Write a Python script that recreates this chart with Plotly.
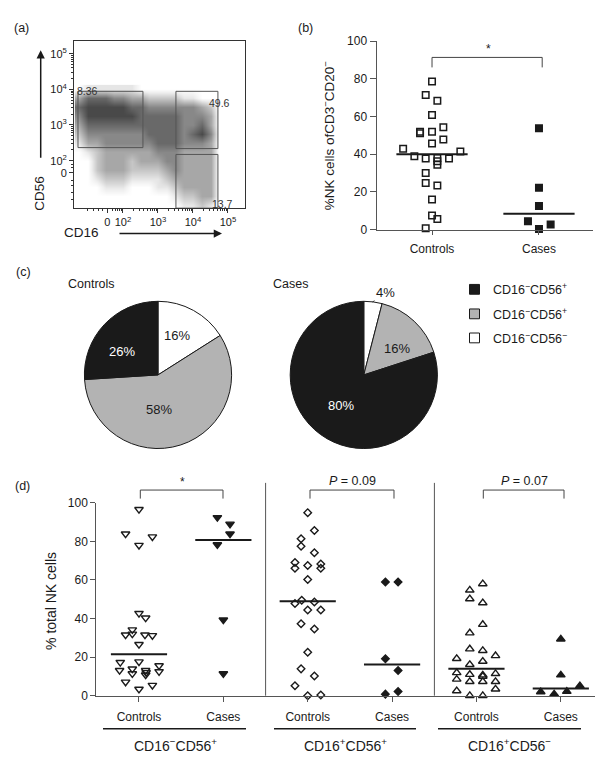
import plotly.graph_objects as go

W, H = 603, 757
FONT = "Liberation Sans, Arial, Helvetica, sans-serif"
INK = "#1a1a1a"
AXC = "#555555"
GRAY = "#b3b3b3"


def px(x):
    return x / W


def py(y):
    return 1 - y / H


# ---------------- (a) flow cytometry dot plot: visual darkness grid
flow_x = [0.75, 1.0, 1.25, 1.5, 1.75, 2.0, 2.25, 2.5, 2.75, 3.0, 3.25, 3.5, 3.75, 4.0, 4.25, 4.5, 4.75]
flow_y = [4.0, 3.75, 3.5, 3.25, 3.0, 2.75, 2.5, 2.25, 2.0, 1.75, 1.5, 1.25, 1.0, 0.75]
flow_z = [
    [0, 1, 1, 1, 1, 1, 1, 0, 0, 0, 0, 0, 0, 0, 0, 0, 0],
    [3, 5, 5, 5, 4, 4, 3, 3, 2, 2, 2, 2, 1, 1, 0, 0, 0],
    [5, 6, 6, 6, 6, 6, 5, 5, 4, 4, 4, 4, 4, 4, 3, 2, 0],
    [4, 6, 6, 6, 6, 6, 6, 5, 5, 5, 5, 5, 4, 4, 4, 3, 0],
    [3, 5, 5, 5, 5, 5, 5, 5, 5, 5, 5, 5, 4, 4, 5, 3, 0],
    [2, 4, 4, 4, 4, 4, 4, 4, 5, 5, 5, 5, 4, 5, 6, 4, 0],
    [1, 3, 3, 4, 4, 4, 4, 4, 4, 5, 5, 5, 4, 4, 4, 3, 0],
    [0, 1, 2, 3, 3, 3, 3, 3, 3, 4, 4, 4, 3, 3, 3, 3, 0],
    [0, 0, 2, 3, 3, 3, 2, 3, 3, 3, 4, 4, 3, 3, 3, 3, 0],
    [0, 0, 2, 3, 3, 3, 2, 2, 2, 2, 3, 4, 3, 3, 3, 3, 0],
    [0, 0, 1, 2, 2, 2, 1, 1, 1, 1, 2, 3, 3, 3, 3, 3, 0],
    [0, 0, 0, 1, 1, 1, 0, 0, 0, 1, 1, 2, 3, 3, 3, 3, 0],
    [0, 0, 0, 0, 0, 0, 0, 0, 0, 0, 0, 1, 2, 2, 3, 3, 0],
    [0, 0, 0, 0, 0, 0, 0, 0, 0, 0, 0, 0, 1, 1, 2, 1, 0],
]
a_tickvals = [1.55, 2, 3, 4, 5]
a_ticktext = ["0", "10<sup>2</sup>", "10<sup>3</sup>", "10<sup>4</sup>", "10<sup>5</sup>"]
a_ytickvals = [1.66, 2, 3, 4, 5]
a_yticktext = ["0", "10<sup>2</sup>", "10<sup>3</sup>", "10<sup>4</sup>", "10<sup>5</sup>"]
gate_labels = ["8.36", "49.6", "13.7"]
gate_x0 = [0.714, 3.514, 3.514]
gate_x1 = [2.571, 4.714, 4.714]
gate_y0 = [2.366, 2.339, 0.667]
gate_y1 = [3.945, 3.945, 2.174]

# ---------------- (b)
b_categories = ["Controls", "Cases"]
b_controls = [78.6, 71.5, 68.4, 60.8, 54.3, 52.0, 51.2, 51.9, 47.9, 45.7, 42.9, 41.5, 38.9,
              37.8, 38.0, 37.8, 36.3, 34.5, 30.0, 24.7, 23.4, 16.0, 7.5, 5.7, 0.7]
b_controls_jit = [0, -0.059, 0.05, 0, 0.106, -0.112, -0.112, 0, 0.106, 0, -0.27, 0.265, -0.165,
                  -0.059, 0.05, 0.159, 0.05, 0.05, -0.059, -0.059, 0.05, 0, 0, 0.05, -0.059]
b_cases = [53.8, 22.2, 12.5, 4.5, 0.3, 2.8]
b_cases_jit = [0, 0, 0, -0.103, 0, 0.109]
b_medians = [40.0, 8.5]

# ---------------- (c)
pie_labels = ["CD16\u2212CD56\u2212", "CD16+CD56+", "CD16\u2212CD56+"]
pie_colors = ["#ffffff", GRAY, INK]
controls_pct = [16, 58, 26]
cases_pct = [4, 16, 80]
legend_text = ["CD16<sup>\u2212</sup>CD56<sup>+</sup>", "CD16<sup>\u2212</sup>CD56<sup>+</sup>",
               "CD16<sup>\u2212</sup>CD56<sup>\u2212</sup>"]
legend_colors = [INK, GRAY, "#ffffff"]

# ---------------- (d)
d_ticktext = ["Controls", "Cases", "Controls", "Cases", "Controls", "Cases"]
d_groups = ["CD16<sup>\u2212</sup>CD56<sup>+</sup>", "CD16<sup>+</sup>CD56<sup>+</sup>",
            "CD16<sup>+</sup>CD56<sup>\u2212</sup>"]
d1_controls = [96.6, 83.9, 82.4, 78.0, 42.7, 40.3, 34.2, 31.5, 32.0, 31.5, 31.2, 26.6, 17.3,
               17.6, 15.6, 13.1, 13.9, 13.1, 12.5, 7.1, 11.4, 10.8, 12.0, 5.4, 3.4]
d1_controls_jit = [0, -0.159, 0.159, 0, 0, 0.079, -0.079, -0.159, -0.079, 0.071, 0.159, 0, -0.222,
                   0, 0.238, -0.23, -0.079, 0.079, 0.238, -0.159, -0.079, 0.079, 0.085, 0.159, 0]
d1_cases = [92.4, 89.0, 83.9, 78.3, 39.3, 11.4]
d1_cases_jit = [-0.071, 0.079, 0.079, -0.071, 0, 0]
d2_controls = [94.9, 85.6, 81.4, 77.5, 74.1, 69.0, 66.1, 67.5, 68.3, 66.1, 60.2, 47.8, 49.5,
               48.6, 44.4, 44.4, 37.3, 34.6, 22.5, 13.9, 10.2, 5.1, 0.0, 0.3]
d2_controls_jit = [0, 0.079, -0.079, -0.079, 0.079, -0.151, -0.151, 0, 0.155, 0.155, 0, -0.151,
                   -0.071, 0.079, 0, 0.155, -0.079, 0.079, 0, -0.079, 0.079, -0.151, 0, 0.155]
d2_cases = [59.0, 59.0, 19.2, 13.1, 0.8, 2.2]
d2_cases_jit = [-0.079, 0.071, -0.079, 0.071, -0.079, 0.071]
d3_controls = [58.0, 54.7, 50.2, 48.1, 36.9, 32.5, 24.2, 23.4, 19.2, 20.7, 17.8, 16.1, 11.9,
               11.0, 10.7, 11.4, 10.0, 8.5, 7.3, 7.3, 7.3, 2.5, 3.4, 0.0, 0.0]
d3_controls_jit = [0.075, -0.079, -0.079, 0.075, 0.075, -0.079, -0.079, 0.075, -0.234, 0.226,
                   0.075, -0.079, -0.234, -0.079, 0.075, 0.226, 0.075, -0.234, -0.079, 0.075,
                   0.226, -0.234, 0.226, -0.079, 0.075]
d3_cases = [29.3, 10.7, 2.0, 0.8, 2.2, 5.1]
d3_cases_jit = [0, 0, -0.238, -0.079, 0.071, 0.226]
d_medians = [21.5, 80.7, 49.0, 16.1, 13.9, 3.7]

fig = go.Figure()

# (a)
fig.add_trace(go.Heatmap(
    x=flow_x, y=flow_y[::-1], z=flow_z[::-1], zmin=0, zmax=7.5, zsmooth="best",
    colorscale=[[0, "#ffffff"], [0.1, "#eeeeee"], [1, "#1a1a1a"]],
    showscale=False, xaxis="x", yaxis="y", hoverinfo="skip"))


def jitter_scatter(pos, vals, jit, symbol, size, xa, ya, lw=1.5):
    return go.Scatter(
        x=[pos + j for j in jit], y=vals, mode="markers", xaxis=xa, yaxis=ya,
        cliponaxis=False, showlegend=False,
        marker=dict(symbol=symbol, size=size, color=INK, line=dict(color=INK, width=lw)))


def median_line(pos, m, xa, ya):
    return go.Scatter(x=[pos - 0.333, pos + 0.333], y=[m, m], mode="lines", xaxis=xa, yaxis=ya,
                      line=dict(color=INK, width=2), showlegend=False, hoverinfo="skip",
                      cliponaxis=False)


# (b)
fig.add_trace(jitter_scatter(0, b_controls, b_controls_jit, "square-open", 6.5, "x2", "y2"))
fig.add_trace(jitter_scatter(1, b_cases, b_cases_jit, "square", 6.5, "x2", "y2"))
for i, m in enumerate(b_medians):
    fig.add_trace(median_line(i, m, "x2", "y2"))

# (c)
pie_doms = [(150.0, 366.7), (355.8, 366.7)]
for vals, (cx, cy) in zip([controls_pct, cases_pct], pie_doms):
    r = 75
    fig.add_trace(go.Pie(
        values=vals, labels=pie_labels, sort=False, direction="clockwise", rotation=0,
        marker=dict(colors=pie_colors, line=dict(color=INK, width=1)),
        textinfo="none", showlegend=False, automargin=False,
        domain=dict(x=[px(cx - r), px(cx + r)], y=[py(cy + r), py(cy - r)])))

# (d)
d_sets = [(d1_controls, d1_controls_jit, "triangle-down-open", 7.5),
          (d1_cases, d1_cases_jit, "triangle-down", 7.5),
          (d2_controls, d2_controls_jit, "diamond-open", 5.8),
          (d2_cases, d2_cases_jit, "diamond", 5.8),
          (d3_controls, d3_controls_jit, "triangle-up-open", 7.5),
          (d3_cases, d3_cases_jit, "triangle-up", 7.5)]
for pos, (vals, jit, sym, sz) in enumerate(d_sets):
    fig.add_trace(jitter_scatter(pos, vals, jit, sym, sz, "x3", "y3", lw=1.4))
for pos, m in enumerate(d_medians):
    fig.add_trace(median_line(pos, m, "x3", "y3"))

tickfont = dict(family=FONT, size=12, color=INK)
common = dict(showgrid=False, zeroline=False, showline=True, ticks="outside", fixedrange=True)

fig.update_layout(
    width=W, height=H, margin=dict(l=0, r=0, t=0, b=0), autosize=False,
    paper_bgcolor="white", plot_bgcolor="rgba(0,0,0,0)",
    font=dict(family=FONT, size=12, color=INK),
    xaxis=dict(domain=[px(66), px(236.7)], range=[0.6, 5.48], anchor="y", mirror=True,
               linecolor="#333", linewidth=1, tickcolor="#333", ticklen=4,
               tickmode="array", tickvals=a_tickvals, ticktext=a_ticktext,
               tickfont=dict(family=FONT, size=11, color=INK),
               minor=dict(tickmode="array", ticks="outside", ticklen=2, tickcolor="#333",
                          tickvals=[1.0, 1.15, 1.3, 1.42, 1.7, 1.78, 1.85, 1.9, 1.95,
                                    2.3, 2.48, 2.6, 2.7, 2.78, 2.85, 2.9, 2.95,
                                    3.3, 3.48, 3.6, 3.7, 3.78, 3.85, 3.9, 3.95,
                                    4.3, 4.48, 4.6, 4.7, 4.78, 4.85, 4.9, 4.95]),
               **common),
    yaxis=dict(domain=[py(196.7), py(26)], range=[0.67, 5.37], anchor="x", mirror=True,
               linecolor="#333", linewidth=1, tickcolor="#333", ticklen=4,
               tickmode="array", tickvals=a_ytickvals, ticktext=a_yticktext,
               tickfont=dict(family=FONT, size=11, color=INK),
               minor=dict(tickmode="array", ticks="outside", ticklen=2, tickcolor="#333",
                          tickvals=[0.9, 1.1, 1.3, 1.45, 1.8, 1.9,
                                    2.3, 2.48, 2.6, 2.7, 2.78, 2.85, 2.9, 2.95,
                                    3.3, 3.48, 3.6, 3.7, 3.78, 3.85, 3.9, 3.95,
                                    4.3, 4.48, 4.6, 4.7, 4.78, 4.85, 4.9, 4.95]),
               **common),
    xaxis2=dict(domain=[px(368.5), px(585)], range=[-0.519, 1.505], anchor="y2",
                linecolor=AXC, linewidth=1, tickcolor=AXC, ticklen=4,
                tickmode="array", tickvals=[0, 1], ticktext=b_categories,
                tickfont=tickfont, ticklabelstandoff=4, **common),
    yaxis2=dict(domain=[py(218.7), py(26.7)], range=[0, 100], anchor="x2",
                linecolor=AXC, linewidth=1, tickcolor=AXC, ticklen=6,
                tickmode="array", tickvals=[0, 20, 40, 60, 80, 100],
                tickfont=tickfont, **common),
    xaxis3=dict(domain=[px(88.3), px(595)], range=[-0.506, 5.5], anchor="y3",
                linecolor=AXC, linewidth=1, tickcolor=AXC, ticklen=5,
                tickmode="array", tickvals=[0, 1, 2, 3, 4, 5], ticktext=d_ticktext,
                tickfont=tickfont, ticklabelstandoff=5, **common),
    yaxis3=dict(domain=[py(693.5), py(497)], range=[0, 100], anchor="x3",
                linecolor=AXC, linewidth=1, tickcolor=AXC, ticklen=5,
                tickmode="array", tickvals=[0, 20, 40, 60, 80, 100],
                tickfont=tickfont, **common),
)

shapes = []
# (a) gates
for x0, x1, y0, y1 in zip(gate_x0, gate_x1, gate_y0, gate_y1):
    shapes.append(dict(type="rect", xref="x", yref="y", x0=x0, x1=x1, y0=y0, y1=y1,
                       line=dict(color="#555", width=1)))
# (b) bracket
shapes.append(dict(type="path", xref="x2", yref="y2", path="M 0,86.1 V 91.4 H 1.03 V 86.1",
                   line=dict(color="#444", width=1)))


def ppath(points):
    return "M " + " L ".join(f"{px(x):.5f},{py(y):.5f}" for x, y in points)


# (d) brackets (paper coords so they are not clipped above the plot area)
for a, b in [(132.3, 215.0), (302.0, 386.0), (475.3, 556.0)]:
    shapes.append(dict(type="path", xref="paper", yref="paper",
                       path=ppath([(a, 492.7), (a, 484.0), (b, 484.0), (b, 492.7)]),
                       line=dict(color="#444", width=1)))
# (d) dividers
for xd in [257.6, 426.4]:
    shapes.append(dict(type="line", xref="paper", yref="paper", x0=px(xd), x1=px(xd),
                       y0=py(693.5), y1=py(476.7), line=dict(color="#555", width=1)))
# (d) group underlines
for x0, x1 in [(95, 238), (266, 408), (430, 573)]:
    shapes.append(dict(type="line", xref="paper", yref="paper", x0=px(x0), x1=px(x1),
                       y0=py(727.3), y1=py(727.3), line=dict(color=INK, width=1.5)))
# (c) legend swatches
legend_rows = [279.5, 304.5, 329.0]
for c, yc in zip(legend_colors, legend_rows):
    shapes.append(dict(type="rect", xref="paper", yref="paper", x0=px(461.5), x1=px(471.5),
                       y0=py(yc + 5), y1=py(yc - 5), fillcolor=c,
                       line=dict(color=INK, width=1)))

ann = []


def T(text, x, y, size=12.5, color=INK, xanchor="center", angle=0):
    ann.append(dict(text=text, x=px(x), y=py(y), xref="paper", yref="paper", showarrow=False,
                    xanchor=xanchor, yanchor="middle", textangle=angle,
                    font=dict(family=FONT, size=size, color=color)))


# panel letters
T("(a)", 13.5, 13.5)
T("(b)", 297.5, 13.5)
T("(c)", 15.5, 262)
T("(d)", 14.5, 479.5)
# (a)
T("CD56", 31.5, 181.5, size=13.5, angle=-90)
T("CD16", 73.5, 222, size=13.5)
for lab, x, y, xa in zip(gate_labels, [66.5, 211.5, 214], [77.7, 89.3, 192.7],
                         ["left", "center", "center"]):
    T(lab, x, y, size=10.5, color="#333", xanchor=xa)
ann.append(dict(text="", x=px(32.7), y=py(36), xref="paper", yref="paper", showarrow=True,
                ax=0, ay=109, arrowhead=2, arrowsize=1.1, arrowwidth=1.5, arrowcolor=INK))
ann.append(dict(text="", x=px(214), y=py(222.7), xref="paper", yref="paper", showarrow=True,
                ax=-104, ay=0, arrowhead=2, arrowsize=1.1, arrowwidth=1.5, arrowcolor=INK))
# (b)
T("%NK cells ofCD3<sup>\u2212</sup>CD20<sup>\u2212</sup>", 320.5, 123, size=13.5, angle=-90)
T("*", 480, 35, size=12)
# (c)
T("Controls", 57.5, 274.5, xanchor="left")
T("Cases", 263, 274.5, xanchor="left")
T("16%", 169, 326.7, size=13)
T("26%", 114, 342.5, size=13, color="#ffffff")
T("58%", 151, 402, size=13)
T("16%", 388.5, 340, size=13)
T("80%", 332.7, 398.3, size=13, color="#ffffff")
ann.append(dict(text="4%", x=px(364.5), y=py(292.5), xref="paper", yref="paper",
                showarrow=True, ax=13, ay=-9.5, arrowhead=0, arrowwidth=0.8,
                arrowcolor=INK, font=dict(family=FONT, size=13, color=INK)))
for t, yc in zip(legend_text, legend_rows):
    T(t, 482.5, yc, xanchor="left")
# (d)
T("% total NK cells", 43, 597, size=14, angle=-90)
T("*", 174.5, 476, size=12)
T("<i>P</i> = 0.09", 344, 474.7)
T("<i>P</i> = 0.07", 516, 474.7)
for lab, xc in zip(d_groups, [167, 337, 501.5]):
    T(lab, xc, 743.5, size=14)

fig.update_layout(shapes=shapes, annotations=ann)
fig.write_html("out.html")
